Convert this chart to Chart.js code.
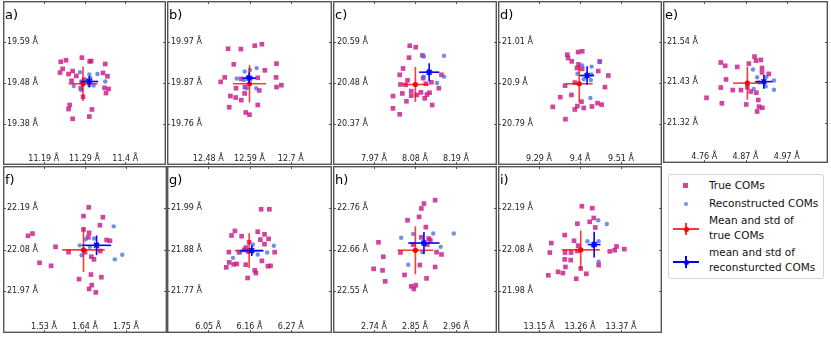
<!DOCTYPE html>
<html>
<head>
<meta charset="utf-8">
<script src="https://cdn.jsdelivr.net/npm/chart.js@4.4.1/dist/chart.umd.min.js"></script>
<style>
  body { margin: 0; width: 831px; height: 337px; background: #fff; position: relative; overflow: hidden; font-family: "DejaVu Sans", sans-serif; }
  canvas { position: absolute; }
  #legend { position: absolute; left: 668px; top: 174px; width: 154px; height: 103px; border: 1px solid #d4d4d4; border-radius: 3px; background: #fff; }
  #legend .txt { position: absolute; left: 40px; font-size: 10.5px; line-height: 15px; color: #111; white-space: nowrap; }
  #legend .ic { position: absolute; }
</style>
</head>
<body>
<div id="legend">
  <div class="ic" style="left:14px;top:8px;width:5px;height:5px;background:rgba(199,21,133,0.8)"></div>
  <div class="txt" style="top:3px">True COMs</div>
  <div class="ic" style="left:15px;top:27px;width:4px;height:4px;border-radius:50%;background:rgba(65,105,225,0.75)"></div>
  <div class="txt" style="top:21px">Reconstructed COMs</div>
  <div class="ic" style="left:4px;top:53px;width:26px;height:1.6px;background:rgba(255,0,0,0.8)"></div>
  <div class="ic" style="left:16px;top:48px;width:1.6px;height:12px;background:rgba(255,0,0,0.8)"></div>
  <div class="ic" style="left:14.5px;top:51.5px;width:5px;height:5px;border-radius:50%;background:#f00"></div>
  <div class="txt" style="top:38px">Mean and std of<br>true COMs</div>
  <div class="ic" style="left:4px;top:86px;width:26px;height:1.6px;background:#00f"></div>
  <div class="ic" style="left:16px;top:81px;width:1.6px;height:12px;background:#00f"></div>
  <div class="ic" style="left:14.5px;top:84.5px;width:5px;height:5px;border-radius:50%;background:#00f"></div>
  <div class="txt" style="top:70px">mean and std of<br>reconsturcted COMs</div>
</div>
<script>
// panel names, tick labels (bottom→top for y) and tick centres
const panelNames = ['a)', 'b)', 'c)', 'd)', 'e)', 'f)', 'g)', 'h)', 'i)']
const xCenters = [11.29, 12.59, 8.08, 9.40, 4.87, 1.64, 6.16, 2.85, 13.26]
const yCenters = [19.48, 19.87, 20.48, 20.90, 21.43, 22.08, 21.88, 22.66, 22.08]
const xTicks = [
  ['11.19 Å', '11.29 Å', '11.4 Å'], ['12.48 Å', '12.59 Å', '12.7 Å'], ['7.97 Å', '8.08 Å', '8.19 Å'],
  ['9.29 Å', '9.4 Å', '9.51 Å'], ['4.76 Å', '4.87 Å', '4.97 Å'], ['1.53 Å', '1.64 Å', '1.75 Å'],
  ['6.05 Å', '6.16 Å', '6.27 Å'], ['2.74 Å', '2.85 Å', '2.96 Å'], ['13.15 Å', '13.26 Å', '13.37 Å']
]
const yTicks = [
  ['19.38 Å', '19.48 Å', '19.59 Å'], ['19.76 Å', '19.87 Å', '19.97 Å'], ['20.37 Å', '20.48 Å', '20.59 Å'],
  ['20.79 Å', '20.9 Å', '21.01 Å'], ['21.32 Å', '21.43 Å', '21.54 Å'], ['21.97 Å', '22.08 Å', '22.19 Å'],
  ['21.77 Å', '21.88 Å', '21.99 Å'], ['22.55 Å', '22.66 Å', '22.76 Å'], ['21.98 Å', '22.08 Å', '22.19 Å']
]

// true and reconstructed COMs per panel
const a_trueX = [11.226, 11.240, 11.283, 11.304, 11.308, 11.346, 11.231, 11.224, 11.247, 11.258, 11.268, 11.340, 11.352, 11.255, 11.289, 11.344, 11.355, 11.348, 11.280, 11.286, 11.250, 11.247, 11.310, 11.258, 11.303]
const a_trueY = [19.537, 19.541, 19.548, 19.538, 19.539, 19.531, 19.518, 19.508, 19.504, 19.512, 19.499, 19.507, 19.498, 19.486, 19.489, 19.467, 19.464, 19.453, 19.466, 19.443, 19.421, 19.410, 19.409, 19.384, 19.390]
const a_recX = [11.278, 11.303, 11.325, 11.261, 11.281, 11.295, 11.315, 11.346, 11.303, 11.306, 11.281]
const a_recY = [19.509, 19.503, 19.504, 19.472, 19.461, 19.487, 19.473, 19.484, 19.473, 19.493, 19.484]

const b_trueX = [12.533, 12.567, 12.604, 12.623, 12.548, 12.662, 12.631, 12.524, 12.513, 12.661, 12.675, 12.662, 12.612, 12.568, 12.554, 12.578, 12.616, 12.577, 12.539, 12.553, 12.568, 12.536, 12.612, 12.580, 12.590]
const b_trueY = [19.962, 19.961, 19.970, 19.974, 19.920, 19.922, 19.904, 19.885, 19.873, 19.885, 19.864, 19.859, 19.884, 19.881, 19.856, 19.859, 19.850, 19.842, 19.835, 19.831, 19.824, 19.805, 19.811, 19.791, 19.785]
const b_recX = [12.577, 12.591, 12.609, 12.556, 12.576, 12.595, 12.583, 12.608, 12.585]
const b_recY = [19.901, 19.905, 19.910, 19.882, 19.878, 19.883, 19.856, 19.856, 19.886]

const c_trueX = [8.066, 8.082, 8.100, 8.064, 8.048, 8.039, 8.060, 8.055, 8.041, 8.102, 8.109, 8.124, 8.151, 8.144, 8.046, 8.070, 8.070, 8.085, 8.096, 8.112, 8.119, 8.106, 8.057, 8.021, 8.126, 8.021, 8.039]
const c_trueY = [20.580, 20.576, 20.554, 20.548, 20.519, 20.502, 20.487, 20.475, 20.476, 20.493, 20.478, 20.482, 20.502, 20.466, 20.452, 20.458, 20.446, 20.448, 20.455, 20.449, 20.454, 20.439, 20.431, 20.445, 20.421, 20.412, 20.396]
const c_recX = [8.104, 8.158, 8.103, 8.118, 8.158, 8.139]
const c_recY = [20.551, 20.553, 20.497, 20.506, 20.497, 20.480]

const d_trueX = [9.395, 9.406, 9.366, 9.368, 9.378, 9.396, 9.392, 9.406, 9.453, 9.449, 9.476, 9.386, 9.360, 9.467, 9.347, 9.377, 9.404, 9.327, 9.393, 9.386, 9.410, 9.432, 9.447, 9.458, 9.361]
const d_trueY = [20.983, 20.985, 20.976, 20.967, 20.958, 20.950, 20.940, 20.938, 20.958, 20.932, 20.920, 20.901, 20.893, 20.889, 20.862, 20.868, 20.850, 20.836, 20.838, 20.829, 20.833, 20.837, 20.846, 20.842, 20.803]
const d_recX = [9.406, 9.431, 9.453, 9.393, 9.431, 9.429, 9.410, 9.428]
const d_recY = [20.947, 20.944, 20.956, 20.925, 20.923, 20.908, 20.910, 20.860]

const e_trueX = [4.804, 4.816, 4.848, 4.879, 4.894, 4.898, 4.911, 4.914, 4.932, 4.818, 4.804, 4.836, 4.858, 4.875, 4.884, 4.899, 4.766, 4.807, 4.872, 4.904, 4.906, 4.915, 4.901, 4.914]
const e_trueY = [21.483, 21.474, 21.471, 21.480, 21.499, 21.488, 21.490, 21.456, 21.452, 21.437, 21.415, 21.408, 21.408, 21.416, 21.404, 21.401, 21.387, 21.372, 21.369, 21.381, 21.363, 21.360, 21.350, 21.468]
const e_recX = [4.890, 4.901, 4.926, 4.946, 4.892, 4.924, 4.946, 4.906]
const e_recY = [21.464, 21.443, 21.444, 21.434, 21.411, 21.418, 21.409, 21.429]

const f_trueX = [1.650, 1.636, 1.688, 1.680, 1.636, 1.651, 1.487, 1.499, 1.649, 1.698, 1.707, 1.561, 1.596, 1.640, 1.681, 1.657, 1.664, 1.518, 1.549, 1.656, 1.684, 1.624, 1.658, 1.651, 1.669]
const f_trueY = [22.191, 22.168, 22.165, 22.144, 22.133, 22.124, 22.116, 22.122, 22.112, 22.105, 22.103, 22.087, 22.073, 22.073, 22.076, 22.061, 22.054, 22.045, 22.037, 22.014, 22.007, 22.002, 21.986, 21.976, 21.967]
const f_recX = [1.717, 1.664, 1.626, 1.653, 1.671, 1.631, 1.720, 1.740, 1.642]
const f_recY = [22.141, 22.109, 22.091, 22.087, 22.091, 22.065, 22.054, 22.066, 22.107]

const g_trueX = [6.191, 6.213, 6.121, 6.112, 6.139, 6.182, 6.200, 6.189, 6.211, 6.200, 6.159, 6.150, 6.105, 6.132, 6.227, 6.146, 6.106, 6.118, 6.126, 6.150, 6.193, 6.098, 6.209, 6.216, 6.174, 6.177, 6.155]
const g_trueY = [21.986, 21.986, 21.929, 21.917, 21.915, 21.927, 21.920, 21.906, 21.908, 21.894, 21.899, 21.885, 21.873, 21.873, 21.873, 21.879, 21.846, 21.841, 21.842, 21.840, 21.850, 21.833, 21.836, 21.837, 21.825, 21.818, 21.805]
const g_recX = [6.116, 6.135, 6.169, 6.165, 6.182, 6.207, 6.225, 6.156]
const g_recY = [21.858, 21.872, 21.893, 21.879, 21.867, 21.872, 21.890, 21.873]

const h_trueX = [2.904, 2.874, 2.867, 2.861, 2.830, 2.879, 2.867, 2.887, 2.891, 2.845, 2.883, 2.752, 2.811, 2.765, 2.908, 2.921, 2.863, 2.904, 2.739, 2.763, 2.770, 2.822, 2.881, 2.840, 2.852, 2.847]
const h_trueY = [22.790, 22.781, 22.768, 22.746, 22.737, 22.719, 22.692, 22.689, 22.684, 22.673, 22.673, 22.679, 22.652, 22.641, 22.653, 22.647, 22.619, 22.614, 22.609, 22.605, 22.576, 22.593, 22.584, 22.563, 22.566, 22.556]
const h_recX = [2.813, 2.845, 2.899, 2.954, 2.919, 2.870, 2.832, 2.874]
const h_recY = [22.691, 22.701, 22.702, 22.702, 22.667, 22.653, 22.620, 22.677]

const i_trueX = [13.265, 13.293, 13.297, 13.286, 13.253, 13.301, 13.219, 13.244, 13.183, 13.255, 13.358, 13.353, 13.379, 13.340, 13.179, 13.220, 13.236, 13.253, 13.219, 13.235, 13.221, 13.262, 13.201, 13.214, 13.175, 13.277, 13.250, 13.310]
const i_trueY = [22.194, 22.189, 22.163, 22.153, 22.148, 22.138, 22.118, 22.103, 22.097, 22.090, 22.088, 22.078, 22.081, 22.075, 22.072, 22.072, 22.072, 22.076, 22.054, 22.052, 22.034, 22.030, 22.021, 22.018, 22.012, 22.016, 22.003, 22.039]
const i_recX = [13.309, 13.332, 13.280, 13.310, 13.295, 13.310]
const i_recY = [22.157, 22.147, 22.102, 22.102, 22.090, 22.048]

// mean and std per panel
const trueMeanX = [11.286, 12.590, 8.081, 9.398, 4.875, 1.636, 6.159, 2.851, 13.262]
const trueMeanY = [19.478, 19.868, 20.476, 20.898, 21.427, 22.079, 21.877, 22.658, 22.079]
const trueStdX = [0.039, 0.044, 0.036, 0.036, 0.038, 0.057, 0.038, 0.048, 0.051]
const trueStdY = [0.046, 0.050, 0.047, 0.050, 0.045, 0.058, 0.046, 0.063, 0.051]
const recMeanX = [11.303, 12.589, 8.118, 9.419, 4.919, 1.671, 6.166, 2.874, 13.298]
const recMeanY = [19.484, 19.883, 20.509, 20.920, 21.431, 22.091, 21.877, 22.677, 22.093]
const recStdX = [0.024, 0.018, 0.027, 0.019, 0.023, 0.039, 0.031, 0.042, 0.017]
const recStdY = [0.015, 0.016, 0.024, 0.025, 0.019, 0.026, 0.014, 0.029, 0.034]

const trueXs = [a_trueX, b_trueX, c_trueX, d_trueX, e_trueX, f_trueX, g_trueX, h_trueX, i_trueX]
const trueYs = [a_trueY, b_trueY, c_trueY, d_trueY, e_trueY, f_trueY, g_trueY, h_trueY, i_trueY]
const recXs = [a_recX, b_recX, c_recX, d_recX, e_recX, f_recX, g_recX, h_recX, i_recX]
const recYs = [a_recY, b_recY, c_recY, d_recY, e_recY, f_recY, g_recY, h_recY, i_recY]

// panel frames on the page: left, top, width, height
const boxes = [
  [3, 1, 163, 164], [167, 1, 165, 164], [333, 1, 164, 164], [498, 1, 164, 164], [663, 1, 165, 162],
  [3, 166, 164, 167], [167, 166, 165, 167], [333, 166, 164, 167], [498, 166, 164, 167]
]
const half = 0.22
const step = 0.11

Chart.defaults.font.family = '"DejaVu Sans", sans-serif'

const RED = 'rgba(255,0,0,0.78)'
const BLUE = '#0000ff'

// frame, inward tick marks and panel letter
const framePlugin = {
  id: 'frame',
  afterDraw(chart, args, opts) {
    const { ctx, chartArea: a, scales } = chart
    ctx.save()
    ctx.strokeStyle = '#555'
    ctx.lineWidth = 1
    ctx.beginPath()
    scales.x.ticks.forEach(t => {
      const p = Math.round(scales.x.getPixelForValue(t.value)) + 0.5
      ctx.moveTo(p, a.bottom); ctx.lineTo(p, a.bottom - 3)
      ctx.moveTo(p, a.top); ctx.lineTo(p, a.top + 3)
    })
    scales.y.ticks.forEach(t => {
      const p = Math.round(scales.y.getPixelForValue(t.value)) + 0.5
      ctx.moveTo(a.left, p); ctx.lineTo(a.left + 3, p)
      ctx.moveTo(a.right, p); ctx.lineTo(a.right - 3, p)
    })
    ctx.stroke()
    ctx.lineWidth = 1.4
    ctx.strokeRect(a.left + 0.7, a.top + 0.7, a.width - 1.4, a.height - 1.4)
    ctx.fillStyle = '#000'
    ctx.font = '13px "DejaVu Sans"'
    ctx.textBaseline = 'alphabetic'
    ctx.fillText(opts.label, a.left + 2, a.top + 18)
    ctx.restore()
  }
}

function pts(xs, ys) {
  return xs.map((x, k) => ({ x: x, y: ys[k] }))
}

panelNames.forEach((name, i) => {
  const b = boxes[i]
  const cv = document.createElement('canvas')
  cv.width = b[2]
  cv.height = b[3]
  cv.style.left = b[0] + 'px'
  cv.style.top = b[1] + 'px'
  document.body.appendChild(cv)

  const cx = xCenters[i]
  const cy = yCenters[i]

  const bar = (data, color, order) => ({
    type: 'line', data: data, borderColor: color, borderWidth: 1.6,
    pointRadius: 0, fill: false, tension: 0, order: order
  })

  new Chart(cv, {
    type: 'scatter',
    data: {
      datasets: [
        { label: 'True COMs', data: pts(trueXs[i], trueYs[i]), pointStyle: 'rect', pointRadius: 3.3,
          backgroundColor: 'rgba(199,21,133,0.8)', borderWidth: 0, order: 6 },
        { label: 'Reconstructed COMs', data: pts(recXs[i], recYs[i]), pointStyle: 'circle', pointRadius: 2.2,
          backgroundColor: 'rgba(65,105,225,0.75)', borderWidth: 0, order: 5 },
        bar([{ x: trueMeanX[i] - trueStdX[i], y: trueMeanY[i] }, { x: trueMeanX[i] + trueStdX[i], y: trueMeanY[i] }], RED, 4),
        bar([{ x: trueMeanX[i], y: trueMeanY[i] - trueStdY[i] }, { x: trueMeanX[i], y: trueMeanY[i] + trueStdY[i] }], RED, 4),
        { data: [{ x: trueMeanX[i], y: trueMeanY[i] }], pointStyle: 'circle', pointRadius: 2.6,
          backgroundColor: '#f00', borderWidth: 0, order: 3 },
        bar([{ x: recMeanX[i] - recStdX[i], y: recMeanY[i] }, { x: recMeanX[i] + recStdX[i], y: recMeanY[i] }], BLUE, 2),
        bar([{ x: recMeanX[i], y: recMeanY[i] - recStdY[i] }, { x: recMeanX[i], y: recMeanY[i] + recStdY[i] }], BLUE, 2),
        { data: [{ x: recMeanX[i], y: recMeanY[i] }], pointStyle: 'star', pointRadius: 3.5,
          backgroundColor: BLUE, borderColor: BLUE, borderWidth: 1.4, order: 1 }
      ]
    },
    options: {
      responsive: false,
      animation: false,
      layout: { padding: 0, autoPadding: false },
      plugins: {
        legend: { display: false },
        tooltip: { enabled: false },
        frame: { label: name }
      },
      scales: {
        x: {
          type: 'linear', min: cx - half, max: cx + half,
          afterBuildTicks: ax => { ax.ticks = [cx - step, cx, cx + step].map(v => ({ value: v })) },
          afterFit: ax => { ax.height = 0; ax.paddingLeft = 0; ax.paddingRight = 0 },
          grid: { display: false, drawTicks: false },
          border: { display: false },
          ticks: { mirror: true, padding: 1, autoSkip: false, maxRotation: 0, color: '#222',
            font: { size: 8 }, callback: (v, k) => xTicks[i][k] }
        },
        y: {
          type: 'linear', min: cy - half, max: cy + half,
          afterBuildTicks: ax => { ax.ticks = [cy - step, cy, cy + step].map(v => ({ value: v })) },
          afterFit: ax => { ax.width = 0; ax.paddingTop = 0; ax.paddingBottom = 0 },
          grid: { display: false, drawTicks: false },
          border: { display: false },
          ticks: { mirror: true, padding: 4, autoSkip: false, color: '#222',
            font: { size: 8 }, callback: (v, k) => yTicks[i][k] }
        }
      }
    },
    plugins: [framePlugin]
  })
})
</script>
</body>
</html>
